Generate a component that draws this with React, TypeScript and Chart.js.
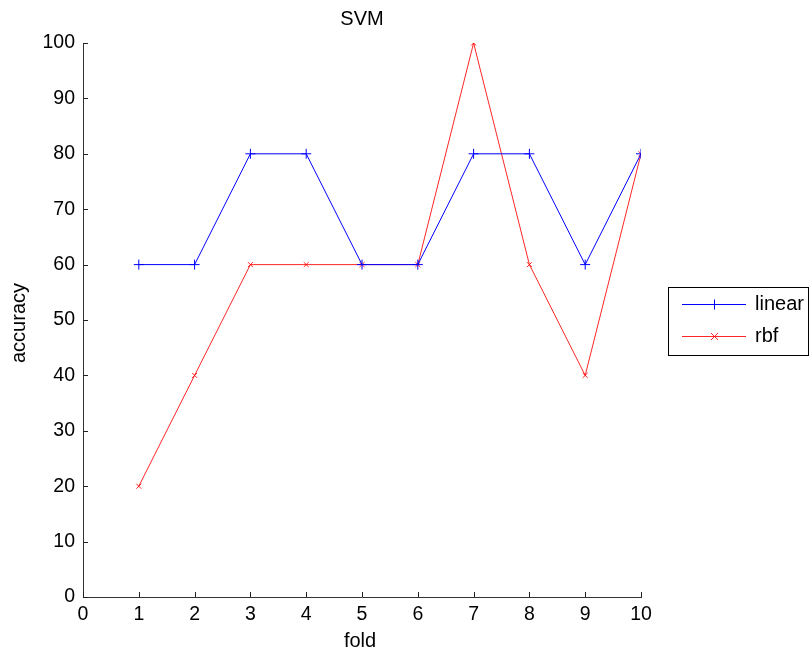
import React, { useEffect, useRef } from "react";
import { Chart, registerables } from "chart.js";

Chart.register(...registerables);

const folds = [1, 2, 3, 4, 5, 6, 7, 8, 9, 10];
const linearAcc = [60, 60, 80, 80, 60, 60, 80, 80, 60, 80];
const rbfAcc = [20, 40, 60, 60, 60, 60, 100, 60, 40, 80];
const titleText = "SVM";
const xTitle = "fold";
const yTitle = "accuracy";
const seriesNames = ["linear", "rbf"];

const FONT = "'Liberation Sans', Arial, sans-serif";

function drawMarker(ctx: any, style: string, r: number, x: number, y: number) {
  ctx.beginPath();
  if (style === "cross") {
    ctx.moveTo(x - r, y);
    ctx.lineTo(x + r, y);
    ctx.moveTo(x, y - r);
    ctx.lineTo(x, y + r);
  } else {
    ctx.moveTo(x - r, y - r);
    ctx.lineTo(x + r, y + r);
    ctx.moveTo(x + r, y - r);
    ctx.lineTo(x - r, y + r);
  }
  ctx.stroke();
}

const overlayPlugin = {
  id: "overlay",
  afterDraw(chart: any) {
    const ctx = chart.ctx;
    const area = chart.chartArea;
    const xs = chart.scales.x;
    const ys = chart.scales.y;
    ctx.save();
    ctx.strokeStyle = "#222";
    ctx.lineWidth = 1;
    ys.ticks.forEach((t: any) => {
      const y = Math.round(ys.getPixelForValue(t.value)) + 0.5;
      ctx.beginPath();
      ctx.moveTo(area.left, y);
      ctx.lineTo(area.left + 5, y);
      ctx.stroke();
    });
    xs.ticks.forEach((t: any) => {
      const x = Math.round(xs.getPixelForValue(t.value)) + 0.5;
      ctx.beginPath();
      ctx.moveTo(x, area.bottom);
      ctx.lineTo(x, area.bottom - 5);
      ctx.stroke();
    });
    ctx.fillStyle = "#000";
    ctx.textAlign = "center";
    ctx.textBaseline = "middle";
    ctx.font = `20px ${FONT}`;
    ctx.fillText(titleText, (area.left + area.right) / 2, 19.5);
    ctx.fillText(xTitle, (area.left + area.right) / 2 - 2, 641);
    ctx.save();
    ctx.translate(19, (area.top + area.bottom) / 2 + 3);
    ctx.rotate(-Math.PI / 2);
    ctx.fillText(yTitle, 0, 0);
    ctx.restore();
    const bx = 668.5, by = 287.5, bw = 140, bh = 68;
    ctx.fillStyle = "#fff";
    ctx.fillRect(bx, by, bw, bh);
    ctx.strokeStyle = "#000";
    ctx.strokeRect(bx, by, bw, bh);
    const items = [
      { y: 304, color: "#0000ff", style: "cross", r: 5 },
      { y: 336, color: "rgba(255,0,0,0.85)", style: "crossRot", r: 3.5 },
    ];
    items.forEach((it, i) => {
      ctx.strokeStyle = it.color;
      ctx.lineWidth = 1;
      ctx.beginPath();
      ctx.moveTo(682, it.y + 0.5);
      ctx.lineTo(746, it.y + 0.5);
      ctx.stroke();
      drawMarker(ctx, it.style, it.r, 714.5, it.y + 0.5);
      ctx.fillStyle = "#000";
      ctx.textAlign = "left";
      ctx.font = `20px ${FONT}`;
      ctx.fillText(seriesNames[i], 755, it.y);
    });
    ctx.restore();
  },
};

export default function App() {
  const ref = useRef<HTMLCanvasElement | null>(null);
  useEffect(() => {
    if (!ref.current) return;
    const chart = new Chart(ref.current, {
      type: "line",
      data: {
        datasets: [
          {
            label: seriesNames[0],
            data: folds.map((f, i) => ({ x: f, y: linearAcc[i] })),
            borderColor: "#0000ff",
            backgroundColor: "#0000ff",
            borderWidth: 1,
            pointStyle: "cross",
            pointRadius: 5,
            pointBorderWidth: 1,
            fill: false,
            tension: 0,
          },
          {
            label: seriesNames[1],
            data: folds.map((f, i) => ({ x: f, y: rbfAcc[i] })),
            borderColor: "rgba(255,0,0,0.85)",
            backgroundColor: "rgba(255,0,0,0.85)",
            borderWidth: 1,
            pointStyle: "crossRot",
            pointRadius: 3.5,
            pointBorderWidth: 1,
            fill: false,
            tension: 0,
          },
        ],
      },
      options: {
        responsive: false,
        animation: false,
        layout: { padding: { left: 0, top: 43, right: 168, bottom: 0 } },
        plugins: { legend: { display: false }, title: { display: false }, tooltip: { enabled: false } },
        scales: {
          x: {
            type: "linear",
            min: 0,
            max: 10,
            ticks: { stepSize: 1, color: "#000", font: { size: 19.5, family: FONT }, padding: 6, maxRotation: 0 },
            grid: { display: false, drawTicks: false },
            border: { display: true, color: "#333", width: 1 },
            afterFit: (s: any) => { s.height = 59; },
          },
          y: {
            min: 0,
            max: 100,
            ticks: { stepSize: 10, color: "#000", font: { size: 19.5, family: FONT }, padding: 8 },
            grid: { display: false, drawTicks: false },
            border: { display: true, color: "#333", width: 1 },
            afterFit: (s: any) => { s.width = 83; },
          },
        },
      },
      plugins: [overlayPlugin],
    });
    return () => chart.destroy();
  }, []);
  return (
    <div style={{ position: "fixed", left: 0, top: 0, width: 809, height: 656, background: "#fff" }}>
      <canvas ref={ref} width={809} height={656} style={{ display: "block", width: 809, height: 656 }} />
    </div>
  );
}
